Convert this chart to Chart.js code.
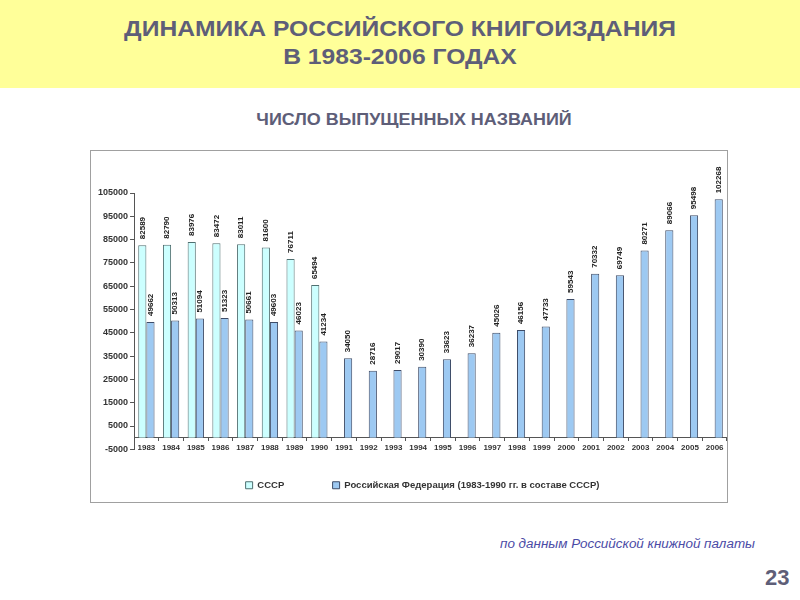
<!DOCTYPE html>
<html>
<head>
<meta charset="utf-8">
<script src="https://cdn.jsdelivr.net/npm/chart.js@4.4.1/dist/chart.umd.min.js"></script>
<style>
  body { margin: 0; width: 800px; height: 600px; background: #fff; position: relative; overflow: hidden; font-family: "Liberation Sans", Arial, sans-serif; }
  .band { position: absolute; left: 0; top: 0; width: 800px; height: 88px; background: #ffff99; }
  .title { position: absolute; left: 0; top: 15px; width: 800px; text-align: center; color: #5e5e78; font-weight: bold; font-size: 22px; line-height: 28px; transform: scaleX(1.12); }
  .subtitle { position: absolute; left: 0; top: 111px; width: 828px; text-align: center; color: #5e5e78; font-weight: bold; font-size: 16px; transform: scaleX(1.12); }
  .frame { position: absolute; left: 90px; top: 150px; width: 636px; height: 351px; border: 1px solid #a0a0a0; background: #fff; }
  .source { position: absolute; left: 500px; top: 537px; color: #4b4ba6; font-style: italic; font-size: 12px; transform: scaleX(1.12); transform-origin: left center; }
  .page { position: absolute; left: 765px; top: 565px; color: #5e5e78; font-weight: bold; font-size: 22px; }
</style>
</head>
<body>
<div class="band"></div>
<div class="title">ДИНАМИКА РОССИЙСКОГО КНИГОИЗДАНИЯ<br>В 1983-2006 ГОДАХ</div>
<div class="subtitle">ЧИСЛО ВЫПУЩЕННЫХ НАЗВАНИЙ</div>
<div class="frame"><canvas id="bookChart" width="636" height="351"></canvas></div>
<div class="source">по данным Российской книжной палаты</div>
<div class="page">23</div>
<script>
const years = ["1983", "1984", "1985", "1986", "1987", "1988", "1989", "1990", "1991", "1992", "1993", "1994",
  "1995", "1996", "1997", "1998", "1999", "2000", "2001", "2002", "2003", "2004", "2005", "2006"];
const ussrTitles = [82589, 82790, 83976, 83472, 83011, 81600, 76711, 65494,
  null, null, null, null, null, null, null, null, null, null, null, null, null, null, null, null];
const rfTitles = [49662, 50313, 51094, 51323, 50661, 49603, 46023, 41234, 34050, 28716, 29017, 30390,
  33623, 36237, 45026, 46156, 47733, 59543, 70332, 69749, 80271, 89066, 95498, 102268];
const seriesNames = ["СССР", "Российская Федерация (1983-1990 гг. в составе СССР)"];

const fontFamily = "'Liberation Sans', Arial, sans-serif";

// vertical value labels above each bar
const barLabels = {
  id: "barLabels",
  afterDatasetsDraw(chart) {
    const ctx = chart.ctx;
    ctx.save();
    ctx.font = "bold 8px " + fontFamily;
    ctx.fillStyle = "#222";
    ctx.textAlign = "left";
    ctx.textBaseline = "middle";
    chart.data.datasets.forEach((ds, i) => {
      chart.getDatasetMeta(i).data.forEach((bar, j) => {
        const v = ds.data[j];
        if (v == null) return;
        ctx.save();
        ctx.translate(bar.x, bar.y - 6);
        ctx.rotate(-Math.PI / 2);
        ctx.fillText(String(v), 0, 0);
        ctx.restore();
      });
    });
    ctx.restore();
  }
};

// the original legend sits a bit right of centre
const legendShift = {
  id: "legendShift",
  afterLayout(chart) {
    chart.legend.left += 11;
    chart.legend.right += 11;
  }
};

new Chart(document.getElementById("bookChart"), {
  type: "bar",
  data: {
    labels: years,
    datasets: [
      {
        label: seriesNames[0],
        data: ussrTitles,
        backgroundColor: "#ccffff",
        borderColor: "#4f6f70",
        borderWidth: 1,
        categoryPercentage: 0.66,
        barPercentage: 1.0,
      },
      {
        label: seriesNames[1],
        data: rfTitles,
        backgroundColor: "#9dc9f2",
        borderColor: "#3e4c68",
        borderWidth: 1,
        categoryPercentage: 0.66,
        barPercentage: 1.0,
      },
    ],
  },
  options: {
    responsive: false,
    animation: false,
    layout: { padding: { top: 42, left: 5, right: 0, bottom: 2 } },
    plugins: {
      tooltip: { enabled: false },
      legend: {
        position: "bottom",
        // empty title only keeps room for the year labels under the zero line
        title: { display: true, text: "", font: { size: 1 }, padding: { top: 16, bottom: 0 } },
        labels: {
          boxWidth: 7,
          boxHeight: 7,
          padding: 14,
          color: "#333",
          font: { size: 9.5, weight: "bold", family: fontFamily },
          generateLabels(chart) {
            const items = Chart.defaults.plugins.legend.labels.generateLabels(chart);
            items[0].text = items[0].text + " ".repeat(13);
            return items;
          },
        },
      },
    },
    scales: {
      x: {
        position: { y: 0 },
        grid: { drawOnChartArea: false, drawTicks: true, tickLength: 3, color: "#555", offset: true },
        border: { display: true, color: "#555" },
        ticks: { color: "#333", padding: 2, maxRotation: 0, autoSkip: false,
          font: { size: 8, weight: "bold", family: fontFamily } },
      },
      y: {
        min: -5000,
        max: 105000,
        grid: { drawOnChartArea: false, drawTicks: true, tickLength: 4, color: "#555" },
        border: { display: true, color: "#555" },
        ticks: { stepSize: 10000, color: "#333", padding: 2,
          font: { size: 9, weight: "bold", family: fontFamily },
          callback: (v) => String(v) },
      },
    },
  },
  plugins: [barLabels, legendShift],
});
</script>
</body>
</html>
